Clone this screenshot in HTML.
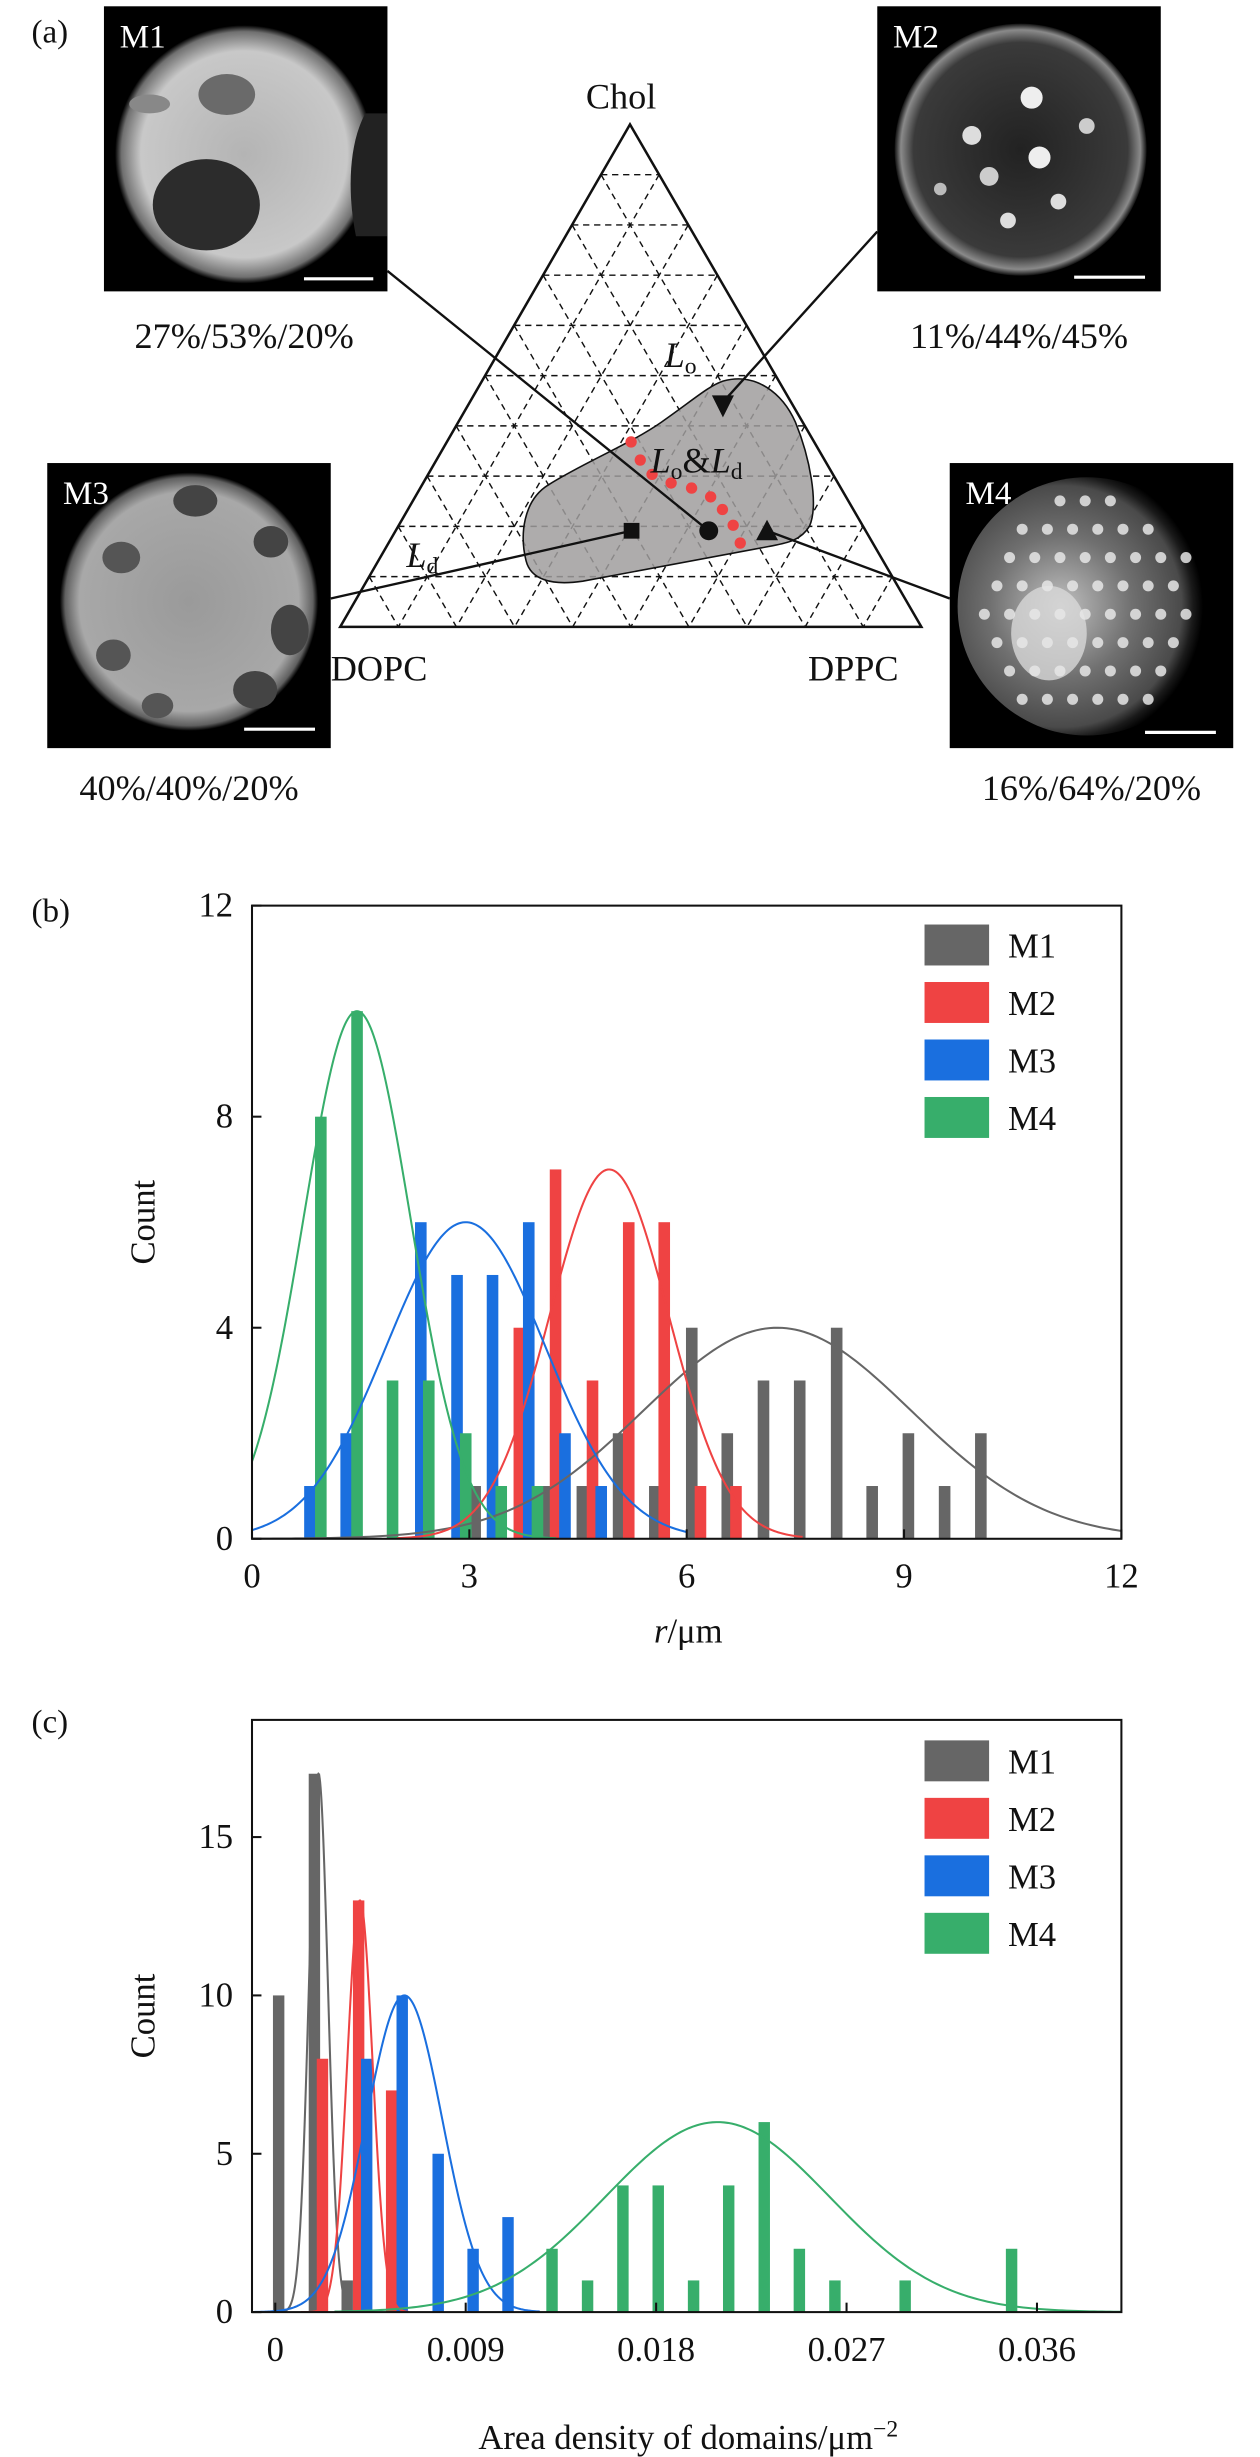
<!DOCTYPE html>
<html><head><meta charset="utf-8"><style>
html,body{margin:0;padding:0;background:#fff}
svg{display:block}
text{font-family:"Liberation Serif",serif;fill:#111}
</style></head><body>
<svg id="fig" xmlns="http://www.w3.org/2000/svg" width="1260" height="2457" viewBox="0 0 800 1560">
<defs>
<radialGradient id="gM1" cx="50%" cy="50%" r="50%"><stop offset="0" stop-color="#b4b4b4"/><stop offset="0.8" stop-color="#c8c8c8"/><stop offset="0.95" stop-color="#707070"/><stop offset="1" stop-color="#000"/></radialGradient>
<radialGradient id="gM2" cx="50%" cy="50%" r="50%"><stop offset="0" stop-color="#222"/><stop offset="0.85" stop-color="#3a3a3a"/><stop offset="0.95" stop-color="#8a8a8a"/><stop offset="1" stop-color="#111"/></radialGradient>
<radialGradient id="gM3" cx="50%" cy="50%" r="50%"><stop offset="0" stop-color="#9a9a9a"/><stop offset="0.85" stop-color="#a8a8a8"/><stop offset="0.96" stop-color="#606060"/><stop offset="1" stop-color="#000"/></radialGradient>
<radialGradient id="gM4" cx="40%" cy="50%" r="55%"><stop offset="0" stop-color="#c0c0c0"/><stop offset="0.5" stop-color="#707070"/><stop offset="0.85" stop-color="#4a4a4a"/><stop offset="0.93" stop-color="#1a1a1a"/><stop offset="1" stop-color="#000"/></radialGradient>
<clipPath id="clipB"><rect x="160" y="575" width="552" height="402"/></clipPath>
<clipPath id="clipC"><rect x="160" y="1092" width="552" height="376"/></clipPath>
</defs>

<text x="20" y="27" font-size="21">(a)</text>
<text x="20" y="585" font-size="21">(b)</text>
<text x="20" y="1100" font-size="21">(c)</text>

<g>
<rect x="66" y="4" width="180" height="181" fill="#000"/>
<circle cx="155" cy="98" r="82" fill="url(#gM1)"/>
<ellipse cx="144" cy="60" rx="18" ry="13" fill="#6a6a6a"/>
<ellipse cx="95" cy="66" rx="13" ry="6" fill="#888"/>
<ellipse cx="131" cy="130" rx="34" ry="29" fill="#2c2c2c"/>
<path d="M232,72 C222,90 220,120 226,150 L246,150 L246,72 Z" fill="#222"/>
<line x1="193" y1="177" x2="237" y2="177" stroke="#fff" stroke-width="2"/>
<text x="76" y="30" font-size="21" style="fill:#fff">M1</text>
</g>
<g>
<rect x="557" y="4" width="180" height="181" fill="#000"/>
<circle cx="648" cy="95" r="80" fill="url(#gM2)"/>
<circle cx="655" cy="62" r="7" fill="#eee"/><circle cx="617" cy="86" r="6" fill="#ddd"/><circle cx="660" cy="100" r="7" fill="#eee"/>
<circle cx="628" cy="112" r="6" fill="#ccc"/><circle cx="640" cy="140" r="5" fill="#ddd"/><circle cx="672" cy="128" r="5" fill="#ddd"/>
<circle cx="597" cy="120" r="4" fill="#bbb"/><circle cx="690" cy="80" r="5" fill="#ccc"/>
<line x1="682" y1="176" x2="727" y2="176" stroke="#fff" stroke-width="2"/>
<text x="567" y="30" font-size="21" style="fill:#fff">M2</text>
</g>
<g>
<rect x="30" y="294" width="180" height="181" fill="#000"/>
<circle cx="120" cy="382" r="82" fill="url(#gM3)"/>
<ellipse cx="124" cy="318" rx="14" ry="10" fill="#444"/><ellipse cx="77" cy="354" rx="12" ry="10" fill="#555"/>
<ellipse cx="172" cy="344" rx="11" ry="10" fill="#444"/><ellipse cx="184" cy="400" rx="12" ry="16" fill="#444"/>
<ellipse cx="72" cy="416" rx="11" ry="10" fill="#555"/><ellipse cx="162" cy="438" rx="14" ry="12" fill="#444"/>
<ellipse cx="100" cy="448" rx="10" ry="8" fill="#555"/>
<line x1="155" y1="463" x2="200" y2="463" stroke="#fff" stroke-width="2"/>
<text x="40" y="320" font-size="21" style="fill:#fff">M3</text>
</g>
<g id="m4img">
<rect x="603" y="294" width="180" height="181" fill="#000"/>
<circle cx="690" cy="385" r="82" fill="url(#gM4)"/>
<ellipse cx="666" cy="402" rx="24" ry="30" fill="#d8d8d8" opacity="0.8"/>
<line x1="727" y1="465" x2="772" y2="465" stroke="#fff" stroke-width="2"/>
<text x="613" y="320" font-size="21" style="fill:#fff">M4</text>
</g>

<text x="155" y="221" font-size="23" text-anchor="middle">27%/53%/20%</text>
<text x="647" y="221" font-size="23" text-anchor="middle">11%/44%/45%</text>
<text x="120" y="508" font-size="23" text-anchor="middle">40%/40%/20%</text>
<text x="693" y="508" font-size="23" text-anchor="middle">16%/64%/20%</text>

<g id="ternary"></g>
<g id="chartB"></g>
<g id="chartC"></g>
</svg>
<script>
// ===== Panel (b) data =====
const bM1x=[3.08,4.05,4.56,5.06,5.56,6.07,6.56,7.06,7.56,8.07,8.56,9.06,9.56,10.06];
const bM1y=[1,1,1,2,1,4,2,3,3,4,1,2,1,2];
const bM2x=[3.69,4.19,4.7,5.2,5.69,6.19,6.68];
const bM2y=[4,7,3,6,6,1,1];
const bM3x=[0.8,1.3,2.33,2.83,3.32,3.82,4.32,4.82];
const bM3y=[1,2,6,5,5,6,2,1];
const bM4x=[0.95,1.45,1.94,2.44,2.95,3.44,3.94];
const bM4y=[8,10,3,3,2,1,1];
const bFitMu=[7.25,4.93,2.95,1.45];
const bFitSigma=[1.85,0.82,1.1,0.74];
const bFitAmp=[4,7,6,10];
const bFitRange=[[0,12],[2,7.6],[0,6],[0,4.2]];
const bXTicks=[0,3,6,9,12];
const bYTicks=[0,4,8,12];
// ===== Panel (c) data =====
const cM1x=[0.00016,0.00185,0.0034];
const cM1y=[10,17,1];
const cM2x=[0.00223,0.00394,0.0055];
const cM2y=[8,13,7];
const cM3x=[0.00432,0.006,0.0077,0.00935,0.011];
const cM3y=[8,10,5,2,3];
const cM4x=[0.01308,0.01476,0.01643,0.0181,0.01977,0.02143,0.02311,0.02477,0.02645,0.02977,0.0348];
const cM4y=[2,1,4,4,1,4,6,2,1,1,2];
const cFitMu=[0.00204,0.004,0.0061,0.0209];
const cFitSigma=[0.00045,0.0006,0.0018,0.0053];
const cFitAmp=[17,13,10,6];
const cFitRange=[[0,0.0042],[0.0012,0.0063],[-0.001,0.0125],[0.0028,0.04]];
const cXTicks=[0,0.009,0.018,0.027,0.036];
const cXTickLabels=["0","0.009","0.018","0.027","0.036"];
const cYTicks=[0,5,10,15];

const colors=["#666666","#ef4343","#1a6fdf","#37ae6b"];
const names=["M1","M2","M3","M4"];
const NS="http://www.w3.org/2000/svg";
function mk(tag,attrs,parent){const e=document.createElementNS(NS,tag);for(const k in attrs)e.setAttribute(k,attrs[k]);parent.appendChild(e);return e;}

function chart(g,opt){
  const {x0,x1,y0,y1,xmin,xmax,ymin,ymax}=opt;
  const X=v=>x0+(v-xmin)/(xmax-xmin)*(x1-x0);
  const Y=v=>y1-(v-ymin)/(ymax-ymin)*(y1-y0);
  const plot=mk('g',{'clip-path':opt.clip},g);
  opt.series.forEach((s,i)=>{
    s.x.forEach((xv,j)=>{
      const r=mk('rect',{x:X(xv-opt.bw/2),y:Y(s.y[j]),width:X(xv+opt.bw/2)-X(xv-opt.bw/2),height:Y(0)-Y(s.y[j]),fill:colors[i]},plot);
      
      
    });
  });
  opt.series.forEach((s,i)=>{
    let d='';const [a,b]=opt.range[i];const n=200;
    for(let k=0;k<=n;k++){const xv=a+(b-a)*k/n;const yv=opt.amp[i]*Math.exp(-Math.pow(xv-opt.mu[i],2)/(2*opt.sig[i]*opt.sig[i]));d+=(k?'L':'M')+X(xv).toFixed(2)+','+Y(yv).toFixed(2);}
    const p=mk('path',{d:d,fill:'none',stroke:colors[i],'stroke-width':1.3},plot);
    
    
  });
  const frame=mk('rect',{x:x0,y:y0,width:x1-x0,height:y1-y0,fill:'none',stroke:'#111','stroke-width':1.3},g);
  
  
  opt.xt.forEach((t,i)=>{
    mk('line',{x1:X(t),x2:X(t),y1:y1,y2:y1-6,stroke:'#111','stroke-width':1.3},g);
    const tx=mk('text',{x:X(t),y:y1+31,'font-size':22,'text-anchor':'middle'},g);tx.textContent=opt.xl[i];
    
    
  });
  opt.yt.forEach(t=>{
    mk('line',{x1:x0,x2:x0+6,y1:Y(t),y2:Y(t),stroke:'#111','stroke-width':1.3},g);
    const tx=mk('text',{x:x0-12,y:Y(t)+7,'font-size':22,'text-anchor':'end'},g);tx.textContent=t;
    
    
  });
  const yl=mk('text',{x:0,y:0,'font-size':22,'text-anchor':'middle',transform:`translate(${x0-62},${(y0+y1)/2}) rotate(-90)`},g);yl.textContent='Count';
  
  
  names.forEach((nm,i)=>{
    const cy=opt.legY+i*36.5;
    const lg=mk('g',{},g);
    
    
    mk('rect',{x:587,y:cy-13,width:41,height:26,fill:colors[i]},lg);
    const t=mk('text',{x:640,y:cy+8,'font-size':22},lg);t.textContent=nm;
  });
}
const B=document.getElementById('chartB');
chart(B,{x0:160,x1:712,y0:575,y1:977,xmin:0,xmax:12,ymin:0,ymax:12,clip:'url(#clipB)',bw:0.16,
 series:[{x:bM1x,y:bM1y},{x:bM2x,y:bM2y},{x:bM3x,y:bM3y},{x:bM4x,y:bM4y}],
 mu:bFitMu,sig:bFitSigma,amp:bFitAmp,range:bFitRange,xt:bXTicks,xl:bXTicks.map(String),yt:bYTicks,legY:600});
{const t=mk('text',{x:437,y:1043,'font-size':22,'text-anchor':'middle'},B);t.innerHTML='<tspan font-style="italic">r</tspan>/μm';

}
const C=document.getElementById('chartC');
chart(C,{x0:160,x1:712,y0:1092,y1:1468,xmin:-0.0011,xmax:0.03999,ymin:0,ymax:18.7,clip:'url(#clipC)',bw:0.00054,
 series:[{x:cM1x,y:cM1y},{x:cM2x,y:cM2y},{x:cM3x,y:cM3y},{x:cM4x,y:cM4y}],
 mu:cFitMu,sig:cFitSigma,amp:cFitAmp,range:cFitRange,xt:cXTicks,xl:cXTickLabels,yt:cYTicks,legY:1118});
{const t=mk('text',{x:437,y:1555,'font-size':22,'text-anchor':'middle'},C);t.innerHTML='Area density of domains/μm<tspan dy="-8" font-size="15">−2</tspan>';

}

const m4=document.getElementById('m4img');
for(let r=0;r<8;r++)for(let c=0;c<9;c++){const x=625+c*16+(r%2)*8,y=318+r*18;const dx=x-690,dy=y-385;if(dx*dx+dy*dy<72*72){mk('circle',{cx:x,cy:y,r:3.5,fill:'#e6e6e6',opacity:0.85},m4);}}

const T=document.getElementById('ternary');
const A=[400,79],L=[216,398],R=[585,398];
const P=(o,p,c)=>[o*L[0]+p*R[0]+c*A[0],o*L[1]+p*R[1]+c*A[1]];
for(let i=1;i<10;i++){const f=i/10;
  let a=P(1-f,0,f),b=P(0,1-f,f);mk('line',{x1:a[0],y1:a[1],x2:b[0],y2:b[1],stroke:'#111','stroke-width':0.9,'stroke-dasharray':'4,3'},T);
  a=P(f,0,1-f);b=P(f,1-f,0);mk('line',{x1:a[0],y1:a[1],x2:b[0],y2:b[1],stroke:'#111','stroke-width':0.9,'stroke-dasharray':'4,3'},T);
  a=P(0,f,1-f);b=P(1-f,f,0);mk('line',{x1:a[0],y1:a[1],x2:b[0],y2:b[1],stroke:'#111','stroke-width':0.9,'stroke-dasharray':'4,3'},T);
}
const reg=mk('path',{d:'M459,242 C480,236 497,250 505,268 C514,290 520,320 514,334 C508,344 498,345 488,347 L370,369 C350,372 337,368 334,356 C330,340 332,318 348,308 C370,294 400,282 420,268 C440,254 450,245 459,242 Z',fill:'#a09d9d','fill-opacity':0.85,stroke:'#111','stroke-width':1},T);


mk('polygon',{points:`${A} ${L} ${R}`,fill:'none',stroke:'#111','stroke-width':1.6},T);
[[400.7,280.6],[406.5,292.1],[414,301.2],[426.1,306.7],[439.1,309.9],[451.2,315.5],[458.7,323.5],[465.5,333.5],[470,344.8]].forEach(p=>mk('circle',{cx:p[0],cy:p[1],r:3.6,fill:'#ef4343'},T));
mk('line',{x1:246,y1:172,x2:450,y2:337,stroke:'#111','stroke-width':1.5},T);
mk('line',{x1:557,y1:147,x2:462,y2:252,stroke:'#111','stroke-width':1.5},T);
mk('line',{x1:210,y1:380,x2:401,y2:337,stroke:'#111','stroke-width':1.5},T);
mk('line',{x1:603,y1:380,x2:487,y2:337,stroke:'#111','stroke-width':1.5},T);
mk('polygon',{points:'452,251 466,251 459,265',fill:'#111'},T);
mk('rect',{x:396,y:332,width:10,height:10,fill:'#111'},T);
mk('circle',{cx:450,cy:337,r:6,fill:'#111'},T);
mk('polygon',{points:'487,330 480,343 494,343',fill:'#111'},T);
const lbl=(x,y,html,nm)=>{const t=mk('text',{x:x,y:y,'font-size':23},T);t.innerHTML=html;};
lbl(372,69,'Chol','chol-vertex-label');
lbl(210,432,'DOPC','dopc-vertex-label');
lbl(513,432,'DPPC','dppc-vertex-label');
lbl(422,233,'<tspan font-style="italic">L</tspan><tspan font-size="15" dy="4">o</tspan>','lo-phase-label');
lbl(413,300,'<tspan font-style="italic">L</tspan><tspan font-size="15" dy="4">o</tspan><tspan dy="-4">&amp;</tspan><tspan font-style="italic">L</tspan><tspan font-size="15" dy="4">d</tspan>','lo-ld-phase-label');
lbl(258,360,'<tspan font-style="italic">L</tspan><tspan font-size="15" dy="4">d</tspan>','ld-phase-label');
</script>
</body></html>
